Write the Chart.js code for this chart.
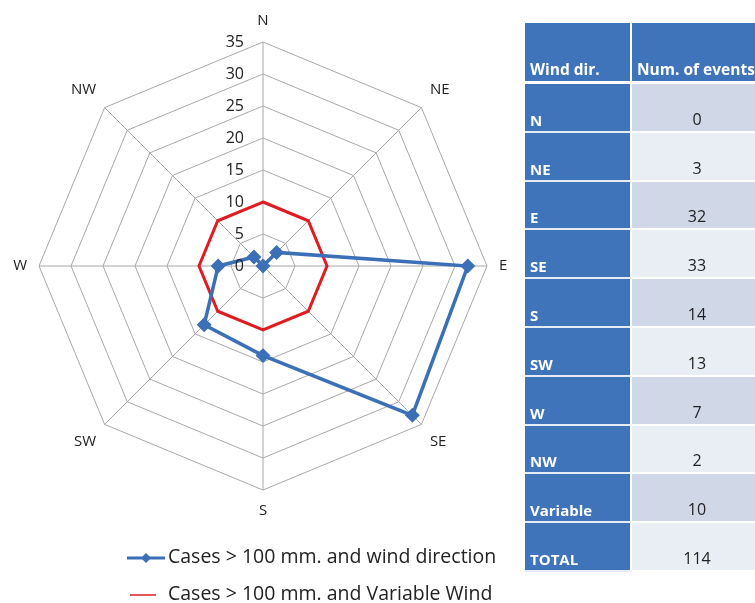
<!DOCTYPE html>
<html><head><meta charset="utf-8">
<script src="https://cdn.jsdelivr.net/npm/chart.js@4/dist/chart.umd.min.js"></script>
<style>
html,body{margin:0;padding:0;background:#fff;overflow:hidden;width:755px;height:603px;}
#wrap{position:absolute;left:0;top:0;width:526px;height:536px;}
#legend{position:absolute;left:126px;top:540px;font-family:"Open Sans",sans-serif;font-size:19.5px;color:#222;}
.li{position:relative;height:37px;line-height:32px;white-space:nowrap;}
.li canvas{vertical-align:middle;}
table{position:absolute;left:525px;top:23px;border-collapse:separate;border-spacing:0;font-family:"Open Sans",sans-serif;font-size:15px;table-layout:fixed;width:250px;}
td,th{padding:0 4px 1px 5px;vertical-align:bottom;box-sizing:border-box;}
th{background:#3f74ba;color:#fff;font-weight:bold;text-align:left;height:61px;border-bottom:3px solid #fff;font-size:15.5px;white-space:nowrap;overflow:hidden;}
td.c1{background:#3f74ba;color:#fff;font-weight:bold;height:48.8px;border-bottom:2px solid #e6ecf5;border-right:2px solid #fff;}
td.c2{color:#222;text-align:center;border-bottom:2px solid #fff;padding-right:18px;font-size:16px;}
th.h1{width:107px;border-right:2px solid #fff;}
tr.odd td.c2{background:#d0d8e8;}
tr.even td.c2{background:#e9edf4;}
</style></head><body>
<div id="wrap"><canvas id="c"></canvas></div>
<div id="legend"></div>
<table id="tbl"><colgroup><col style="width:107px"><col style="width:143px"></colgroup></table>
<script>
const directions = ["N","NE","E","SE","S","SW","W","NW"];
const windCases = [0,3,32,33,14,13,7,2];
const variableCases = [10,10,10,10,10,10,10,10];
const tickValues = [0,5,10,15,20,25,30,35];
const tableDirs = ["N","NE","E","SE","S","SW","W","NW","Variable","TOTAL"];
const tableCounts = [0,3,32,33,14,13,7,2,10,114];
const seriesNames = ["Cases > 100 mm. and wind direction","Cases > 100 mm. and Variable Wind"];
const blue = "#3c70b6", red = "#e01b22";

// table
const tbl = document.getElementById('tbl');
let html = '<tr><th class="h1">Wind dir.</th><th class="h2">Num. of events</th></tr>';
tableDirs.forEach((d,i)=>{
  html += `<tr class="${i%2===0?'odd':'even'}"><td class="c1">${d}</td><td class="c2">${tableCounts[i]}</td></tr>`;
});
tbl.insertAdjacentHTML('beforeend', html);

const tickPlugin = {
  id:'ticksLeft',
  afterDatasetsDraw(chart){
    const s = chart.scales.r, ctx = chart.ctx;
    ctx.save();
    ctx.font = '16px "Open Sans", sans-serif';
    ctx.fillStyle = '#222';
    ctx.textAlign = 'right';
    ctx.textBaseline = 'middle';
    tickValues.forEach(v=>{
      const d = s.getDistanceFromCenterForValue(v);
      ctx.fillText(String(v), s.xCenter - 19, s.yCenter - d);
    });
    ctx.restore();
  }
};

const chart = new Chart(document.getElementById('c'), {
  type:'radar',
  data:{labels:directions, datasets:[
    {label:seriesNames[0], data:windCases, borderColor:blue, backgroundColor:blue, borderWidth:3.5, pointStyle:'rectRot', pointRadius:5, pointBackgroundColor:blue, pointBorderColor:blue, fill:false, order:0},
    {label:seriesNames[1], data:variableCases, borderColor:red, backgroundColor:red, borderWidth:3, pointRadius:0, fill:false, order:1}
  ]},
  options:{
    responsive:true, maintainAspectRatio:false, animation:false,
    layout:{padding:{left:10,right:14,top:12,bottom:16}},
    plugins:{legend:{display:false}, tooltip:{enabled:false}},
    scales:{r:{
      min:0,max:35,
      ticks:{display:false,stepSize:5},
      grid:{color:'#a8a8a8',lineWidth:1},
      angleLines:{color:'#a8a8a8',lineWidth:1},
      pointLabels:{font:{family:'"Open Sans", sans-serif',size:15},color:'#222',padding:12}
    }}
  },
  plugins:[tickPlugin]
});

// legend
const lg = document.getElementById('legend');
seriesNames.forEach((n,i)=>{
  const div = document.createElement('div'); div.className='li';
  const cv = document.createElement('canvas'); cv.width = 40; cv.height = 14;
  const x = cv.getContext('2d');
  x.strokeStyle = i===0?blue:red; x.lineWidth = i===0?3:1.5;
  x.beginPath(); x.moveTo(i===0?1:4,7); x.lineTo(i===0?39:30,7); x.stroke();
  if(i===0){ x.fillStyle=blue; x.beginPath(); x.moveTo(20,2); x.lineTo(25,7); x.lineTo(20,12); x.lineTo(15,7); x.closePath(); x.fill(); }
  div.appendChild(cv);
  const sp = document.createElement('span'); sp.textContent = n; sp.style.marginLeft = '2px';
  div.appendChild(sp);
  lg.appendChild(div);
});
</script>
</body></html>
